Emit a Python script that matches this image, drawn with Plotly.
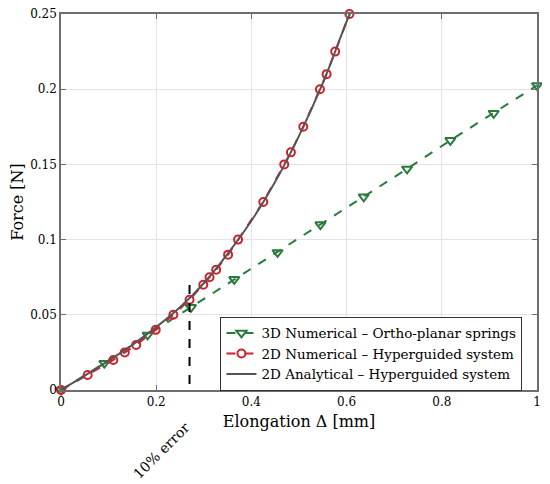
import plotly.graph_objects as go

# 3D numerical - ortho-planar springs
num3d_x = [0, 0.091, 0.182, 0.273, 0.364, 0.455, 0.545, 0.636, 0.727, 0.818, 0.909, 1.0]
num3d_y = [0, 0.0178, 0.0366, 0.0550, 0.0736, 0.0915, 0.1100, 0.1285, 0.1470, 0.1660, 0.1840, 0.2025]

# 2D numerical - hyperguided system
num2d_x = [0, 0.056, 0.110, 0.134, 0.158, 0.199, 0.236, 0.270, 0.299, 0.312, 0.326, 0.351,
           0.372, 0.425, 0.469, 0.483, 0.509, 0.544, 0.558, 0.576, 0.606]
num2d_y = [0, 0.010, 0.020, 0.025, 0.030, 0.040, 0.050, 0.060, 0.070, 0.075, 0.080, 0.090,
           0.100, 0.125, 0.150, 0.158, 0.175, 0.200, 0.210, 0.225, 0.250]

# 2D analytical - hyperguided system
ana_x = [0, 0.05, 0.10, 0.15, 0.20, 0.25, 0.30, 0.35, 0.40, 0.45, 0.50, 0.55, 0.60, 0.607]
ana_y = [0, 0.0095, 0.0195, 0.0300, 0.0418, 0.0550, 0.0710, 0.0905, 0.1125, 0.1385,
         0.1690, 0.2040, 0.2450, 0.2500]

# 10% error marker
err_x = 0.27
err_top = 0.0755

x_ticks = [0, 0.2, 0.4, 0.6, 0.8, 1]
x_labels = ["0", "0.2", "0.4", "0.6", "0.8", "1"]
y_ticks = [0, 0.05, 0.1, 0.15, 0.2, 0.25]
y_labels = ["0", "0.05", "0.1", "0.15", "0.2", "0.25"]

font_family = "DejaVu Serif, Liberation Serif, serif"
green = "#2b7a3d"
red = "#d0202a"
grey = "#555555"

fig = go.Figure()
fig.add_trace(go.Scatter(
    x=num3d_x, y=num3d_y, mode="lines+markers",
    name="3D Numerical \u2013 Ortho-planar springs",
    line=dict(color=green, width=2, dash="dash"),
    marker=dict(symbol="triangle-down-open", size=9, color=green, line=dict(width=2)),
    cliponaxis=False
))
fig.add_trace(go.Scatter(
    x=num2d_x, y=num2d_y, mode="lines+markers",
    name="2D Numerical \u2013 Hyperguided system",
    line=dict(color=red, width=2, dash="dash"),
    marker=dict(symbol="circle-open", size=8, color=red, line=dict(width=2)),
    cliponaxis=False
))
fig.add_trace(go.Scatter(
    x=ana_x, y=ana_y, mode="lines",
    name="2D Analytical \u2013 Hyperguided system",
    line=dict(color=grey, width=2, shape="spline"),
))

# vertical dashed "10% error" line
fig.add_shape(type="line", xref="x", yref="y", x0=err_x, x1=err_x, y0=-0.008, y1=err_top,
              line=dict(color="black", width=2, dash="dash"), layer="above")
fig.add_annotation(text="10% error", xref="x", yref="paper", x=0.212, y=-0.16,
                   textangle=-45, showarrow=False, xanchor="center", yanchor="middle",
                   font=dict(family=font_family, size=14, color="black"))

axis_common = dict(
    showgrid=True, gridcolor="#e3e3e3", gridwidth=1,
    showline=True, linecolor="#6e6e6e", linewidth=1.5, mirror="ticks",
    ticks="inside", ticklen=5, tickcolor="#6e6e6e",
    zeroline=False, automargin=False, ticklabeloverflow="allow",
    tickfont=dict(family=font_family, size=12, color="black"),
)
fig.update_xaxes(range=[0, 1], tickvals=x_ticks, ticktext=x_labels,
                 title=dict(text="Elongation \u0394 [mm]", standoff=8,
                            font=dict(family=font_family, size=16, color="black")),
                 **axis_common)
fig.update_yaxes(range=[0, 0.25], tickvals=y_ticks, ticktext=y_labels,
                 title=dict(text="Force [N]", standoff=6,
                            font=dict(family=font_family, size=16, color="black")),
                 **axis_common)

# the page body adds an 8px offset, so the figure is sized to fit inside it
fig.update_layout(
    width=542, height=476,
    margin=dict(l=53, r=13, t=6, b=94),
    paper_bgcolor="white", plot_bgcolor="white",
    font=dict(family=font_family, size=14, color="black"),
    showlegend=True,
    legend=dict(x=0.335, y=0.195, xanchor="left", yanchor="top",
                bgcolor="white", bordercolor="#333333", borderwidth=1,
                font=dict(family=font_family, size=13.5), tracegroupgap=0,
                itemwidth=30),
)

fig.write_html("out.html")
